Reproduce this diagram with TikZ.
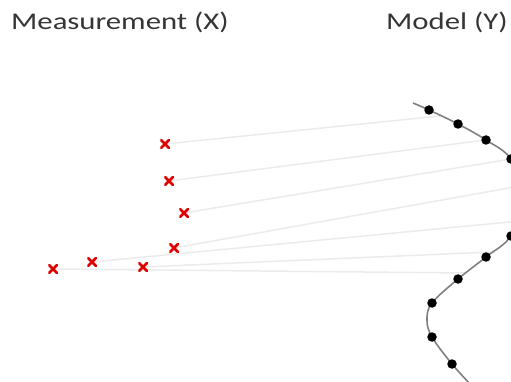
\documentclass[tikz,border=0pt]{standalone}
\usepackage{fontspec}
\newfontfamily\labelfont[FakeStretch=1.28]{Carlito}
\definecolor{txt}{HTML}{353535}
\definecolor{xred}{HTML}{E00000}
\definecolor{link}{HTML}{EBEBEB}
\definecolor{curve}{HTML}{808080}
\tikzset{
  title/.style={font=\labelfont\fontsize{24}{28}\selectfont, text=txt, inner sep=0pt, anchor=base west},
  meas/.style={inner sep=0pt, minimum size=9.5pt, path picture={
      \draw[xred, line width=2.6pt]
        (path picture bounding box.south west) -- (path picture bounding box.north east)
        (path picture bounding box.north west) -- (path picture bounding box.south east);}},
  mdot/.style={circle, fill=black, inner sep=0pt, minimum size=9.5pt},
  corr/.style={link, line width=1.5pt},
  model/.style={curve, line width=1.6pt}
}
\begin{document}
\begin{tikzpicture}[x=1pt, y=-1pt]
\useasboundingbox (0,0) rectangle (511,382);
\clip (0,0) rectangle (511,382);

\node[title] (tX) at (11,30) {Measurement (X)};
\node[title] (tY) at (386,30) {Model (Y)};

% points where each measurement meets the model
\coordinate (e1) at (440,116);
\coordinate (e2) at (485,140);
\coordinate (e3) at (511,159);
\coordinate (e4) at (520,186);
\coordinate (e5) at (520,221);
\coordinate (e6) at (492,252);
\coordinate (e7) at (466,273);

% measurement positions
\coordinate (p1) at (165,144);
\coordinate (p2) at (169,181);
\coordinate (p3) at (184,213);
\coordinate (p4) at (174,248);
\coordinate (p5) at (92,262);
\coordinate (p6) at (143,267);
\coordinate (p7) at (53,269);

% correspondences
\draw[corr] (p1) -- (e1);
\draw[corr] (p2) -- (e2);
\draw[corr] (p3) -- (e3);
\draw[corr] (p4) -- (e4);
\draw[corr] (p5) -- (e5);
\draw[corr] (p6) -- (e6);
\draw[corr] (p7) -- (e7);

% model curve
\draw[model] plot[smooth, tension=0.6] coordinates {
  (413,103) (429,110) (458,124) (486,140) (511,159) (527,197) (511,236)
  (486,257) (458,279) (432,303) (427,320) (432,337) (452,364) (472,386)};

% model samples
\foreach \n/\p in {m1/{(429,110)}, m2/{(458,124)}, m3/{(486,140)}, m4/{(511,159)},
                   m5/{(511,236)}, m6/{(486,257)}, m7/{(458,279)}, m8/{(432,303)},
                   m9/{(432,337)}, m10/{(452,364)}}
  \node[mdot] (\n) at \p {};

% measurements
\foreach \i in {1,...,7}
  \node[meas] (x\i) at (p\i) {};
\end{tikzpicture}
\end{document}
